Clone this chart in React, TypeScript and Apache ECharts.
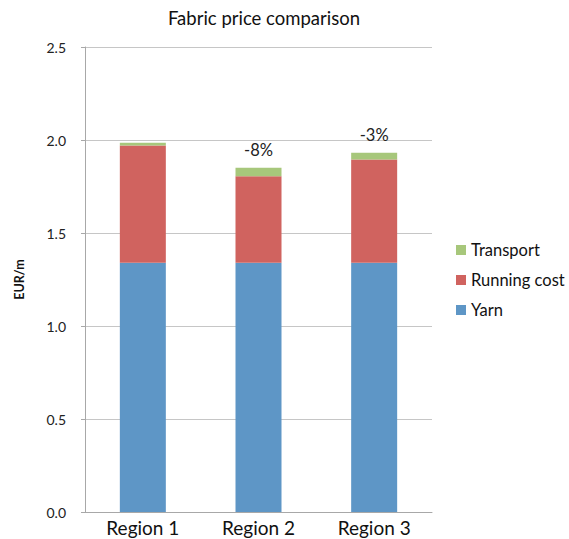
import React, { useEffect, useRef } from "react";
import * as echarts from "echarts";

// Fabric cost breakdown per region (EUR per metre)
const regions = ["Region 1", "Region 2", "Region 3"];
const yarn = [1.34, 1.34, 1.34];
const runningCost = [0.63, 0.465, 0.555];
const transport = [0.015, 0.046, 0.037];
const changeLabels = ["", "-8%", "-3%"];
const yTicks = [0, 0.5, 1.0, 1.5, 2.0, 2.5];

const FONT = "Lato, 'Open Sans', sans-serif";
const COLORS = { yarn: "#5E96C6", running: "#D0635F", transport: "#A7C77B" };

export default function App() {
  const ref = useRef<HTMLDivElement>(null);

  useEffect(() => {
    if (!ref.current) return;
    document.body.style.margin = "0";
    const chart = echarts.init(ref.current, undefined, { renderer: "svg" });
    chart.setOption({
      animation: false,
      textStyle: { fontFamily: FONT },
      graphic: [
        {
          type: "text",
          x: 264,
          y: 18,
          style: {
            text: "Fabric price comparison",
            fontFamily: FONT,
            fontSize: 18.5,
            fill: "#111",
            textAlign: "center",
            textVerticalAlign: "middle",
          },
        },
      ],
      grid: { left: 85, right: 137, top: 47, bottom: 27, containLabel: false },
      legend: {
        orient: "vertical",
        left: 451,
        top: 236,
        itemWidth: 10,
        itemHeight: 10,
        itemGap: 12,
        icon: "rect",
        data: ["Transport", "Running cost", "Yarn"],
        textStyle: { fontFamily: FONT, fontSize: 16.5, lineHeight: 18, color: "#111" },
      },
      xAxis: {
        type: "category",
        data: regions,
        axisTick: { show: false },
        axisLine: { lineStyle: { color: "#A8A8A8", width: 1 } },
        axisLabel: { fontFamily: FONT, fontSize: 19, color: "#111", margin: 6 },
      },
      yAxis: {
        type: "value",
        min: yTicks[0],
        max: yTicks[yTicks.length - 1],
        interval: 0.5,
        name: "EUR/m",
        nameLocation: "middle",
        nameRotate: 90,
        nameGap: 59,
        nameTextStyle: { fontFamily: FONT, fontSize: 12.5, fontWeight: "bold", color: "#111" },
        axisLine: { show: true, lineStyle: { color: "#A8A8A8", width: 1 } },
        axisTick: { show: true, length: 4, lineStyle: { color: "#A8A8A8" } },
        axisLabel: {
          fontFamily: FONT,
          fontSize: 14,
          color: "#222",
          margin: 19,
          formatter: (v: number) => v.toFixed(1),
        },
        splitLine: { lineStyle: { color: "#C6C6C6", width: 1 } },
      },
      series: [
        {
          name: "Yarn",
          type: "bar",
          stack: "total",
          barWidth: 46,
          data: yarn,
          itemStyle: { color: COLORS.yarn },
        },
        {
          name: "Running cost",
          type: "bar",
          stack: "total",
          barWidth: 46,
          data: runningCost,
          itemStyle: { color: COLORS.running },
        },
        {
          name: "Transport",
          type: "bar",
          stack: "total",
          barWidth: 46,
          data: transport,
          itemStyle: { color: COLORS.transport },
          label: {
            show: true,
            position: "top",
            distance: 9,
            fontFamily: FONT,
            fontSize: 16.5,
            color: "#222",
            formatter: (p: any) => changeLabels[p.dataIndex],
          },
        },
      ],
    });
    return () => chart.dispose();
  }, []);

  return <div ref={ref} style={{ width: 569, height: 539 }} />;
}
